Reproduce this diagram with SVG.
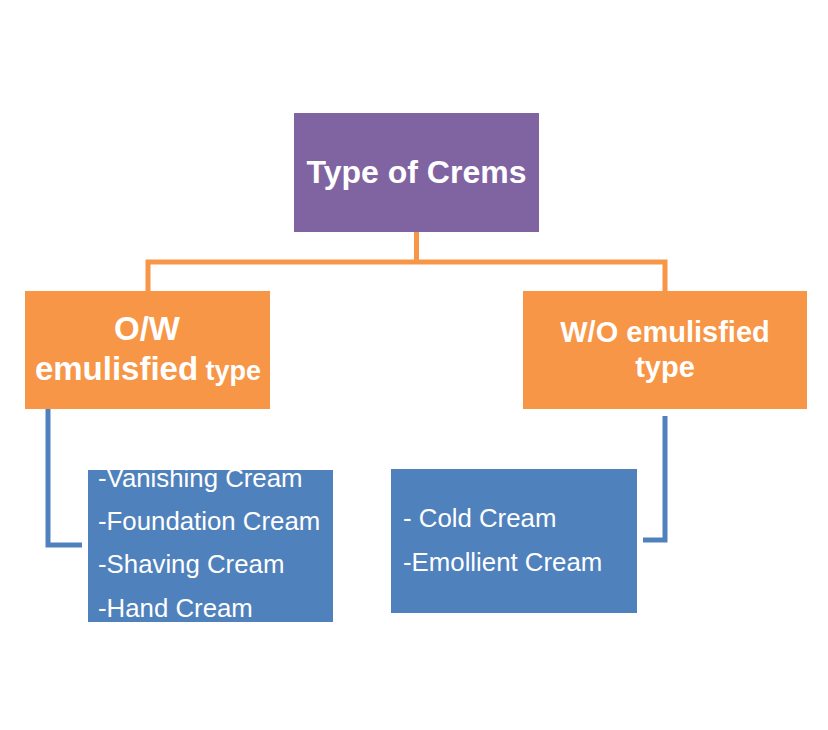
<svg xmlns="http://www.w3.org/2000/svg" width="828" height="730" viewBox="0 0 828 730">
<style>
.t{font-family:"Liberation Sans",Arial,sans-serif;fill:#ffffff}
.b{font-weight:bold}
.orange{fill:#F79646}
.blue{fill:#4F81BD}
.conO{stroke:#F79646;stroke-width:5;fill:none}
.conB{stroke:#4F81BD;stroke-width:5;fill:none}
</style>
<rect width="828" height="730" fill="#ffffff"/>
<g id="connectors">
<path class="conO" d="M416.5 232 V262 M148 291 V262 H665 V291"/>
<path class="conB" d="M48 409 V545 H82"/>
<path class="conB" d="M665 416 V540 H643"/>
</g>
<g id="root">
<rect x="294" y="113" width="245" height="119" fill="#8064A2"/>
<text class="t b" x="416.5" y="183" font-size="32" text-anchor="middle">Type of Crems</text>
</g>
<g id="ow">
<rect class="orange" x="25" y="291" width="245" height="118"/>
<text class="t b" x="147" y="340" font-size="33" text-anchor="middle">O/W</text>
<text class="t b" x="148" y="380" font-size="33" text-anchor="middle">emulisfied<tspan font-size="27"> type</tspan></text>
</g>
<g id="wo">
<rect class="orange" x="523" y="291" width="284" height="118"/>
<text class="t b" x="665" y="342" font-size="29" text-anchor="middle">W/O emulisfied</text>
<text class="t b" x="665" y="377" font-size="29" text-anchor="middle">type</text>
</g>
<g id="ow-list">
<rect class="blue" x="88" y="470" width="245" height="152"/>
<text class="t" x="98" y="487" font-size="25.8">-Vanishing Cream</text>
<text class="t" x="98" y="530" font-size="25.8">-Foundation Cream</text>
<text class="t" x="98" y="573" font-size="25.8">-Shaving Cream</text>
<text class="t" x="98" y="617" font-size="25.8">-Hand Cream</text>
</g>
<g id="wo-list">
<rect class="blue" x="391" y="469" width="246" height="144"/>
<text class="t" x="403" y="527" font-size="25.8">- Cold Cream</text>
<text class="t" x="403" y="571" font-size="25.8">-Emollient Cream</text>
</g>
</svg>
